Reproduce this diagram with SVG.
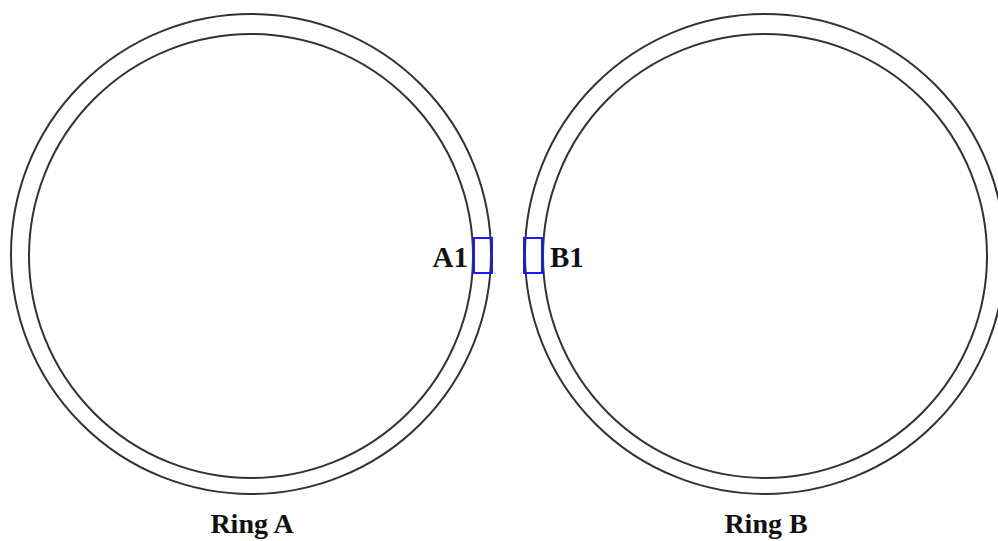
<svg xmlns="http://www.w3.org/2000/svg" width="998" height="541" viewBox="0 0 998 541">
<style>
.ring{fill:none;stroke:#333;stroke-width:2}
.port{fill:none;stroke:#1a1aff;stroke-width:2}
.lbl{font-family:"Liberation Serif",serif;font-weight:bold;fill:#111}
</style>
<rect width="998" height="541" fill="#fff"/>
<g id="ringA">
<circle class="ring" cx="251" cy="254" r="240"/>
<circle class="ring" cx="251" cy="256" r="222"/>
<text class="lbl" x="252" y="533" font-size="28" text-anchor="middle">Ring A</text>
</g>
<g id="ringB">
<circle class="ring" cx="765" cy="254" r="240"/>
<circle class="ring" cx="765" cy="256" r="222"/>
<text class="lbl" x="766" y="533" font-size="28" text-anchor="middle">Ring B</text>
</g>
<g id="A1">
<rect class="port" x="474" y="238" width="18" height="35"/>
<text class="lbl" x="468" y="267" font-size="29" text-anchor="end">A1</text>
</g>
<g id="B1">
<rect class="port" x="524" y="238" width="18" height="35"/>
<text class="lbl" x="550" y="267" font-size="29">B1</text>
</g>
<g id="connectors"></g>
</svg>
